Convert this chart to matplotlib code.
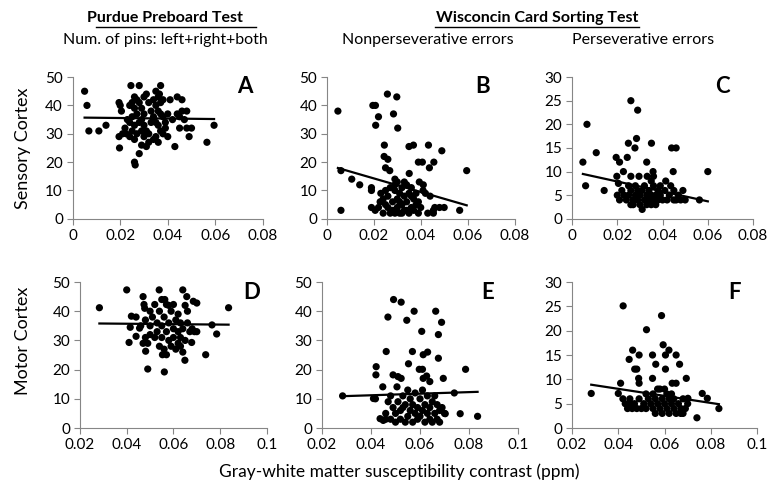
import numpy as np
import matplotlib
matplotlib.use("Agg")
import matplotlib.pyplot as plt

plt.rcParams["font.family"] = ["Lato", "DejaVu Sans"]

# points (x = contrast ppm, y = score)
a_pts = [(0.005, 45), (0.006, 40), (0.0068, 31), (0.011, 31), (0.014, 33),
         (0.0195, 41), (0.020, 40), (0.0205, 38), (0.0195, 29), (0.0197, 25), (0.021, 30), (0.022, 32), (0.023, 35), (0.0225, 30),
         (0.0245, 47), (0.028, 47), (0.026, 43), (0.027, 42), (0.025, 41), (0.024, 40), (0.026, 39), (0.027, 37), (0.025, 36),
         (0.024, 34), (0.026, 33), (0.025, 31), (0.027, 30), (0.026, 28), (0.024, 29),
         (0.026, 20), (0.0263, 19), (0.028, 23), (0.029, 26), (0.031, 25.5), (0.032, 27),
         (0.028, 41), (0.029, 39), (0.030, 43), (0.031, 44), (0.032, 41), (0.033, 38), (0.029, 35), (0.030, 33), (0.031, 31),
         (0.030, 29), (0.032, 30), (0.033, 34), (0.028, 34), (0.029, 31), (0.030, 37),
         (0.034, 42), (0.035, 45), (0.036, 43), (0.037, 47), (0.0365, 44), (0.035, 40), (0.036, 38), (0.037, 41), (0.034, 36),
         (0.035, 34), (0.036, 33), (0.037, 31), (0.035, 29), (0.036, 27), (0.034, 28), (0.038, 30), (0.038, 36), (0.039, 34),
         (0.037, 37), (0.038, 42), (0.039, 32), (0.040, 29), (0.040, 37),
         (0.041, 42), (0.044, 43), (0.046, 42), (0.043, 25.5), (0.045, 32), (0.048, 38), (0.046, 38), (0.045, 36), (0.048, 32),
         (0.050, 32), (0.049, 29), (0.0565, 27), (0.0595, 33), (0.042, 35), (0.044, 37), (0.047, 35)]

b_pts = [(0.0047, 38), (0.006, 17), (0.006, 3), (0.0106, 14), (0.014, 12), (0.019, 11), (0.019, 10), (0.0196, 40), (0.0207, 40),
         (0.0208, 33), (0.022, 36), (0.0258, 44), (0.0298, 43), (0.0284, 37), (0.0302, 32), (0.0245, 26), (0.0244, 22), (0.026, 21),
         (0.025, 18), (0.0268, 17), (0.035, 25.5), (0.0369, 26), (0.0351, 16), (0.029, 14), (0.039, 20), (0.0407, 20), (0.0433, 26),
         (0.0456, 20), (0.0437, 18), (0.049, 24), (0.0596, 17), (0.0394, 13), (0.0411, 12), (0.044, 8), (0.0566, 3), (0.0454, 3),
         (0.0454, 2), (0.048, 4), (0.05, 4), (0.019, 4), (0.0206, 3), (0.0227, 6), (0.024, 2),
         (0.023, 9), (0.025, 5), (0.026, 8), (0.027, 11), (0.028, 6), (0.028, 3), (0.029, 10), (0.029, 12), (0.030, 7), (0.030, 4),
         (0.031, 2), (0.031, 9), (0.032, 11), (0.032, 5), (0.033, 3), (0.033, 8), (0.034, 12), (0.034, 6), (0.035, 2), (0.035, 9),
         (0.036, 4), (0.036, 11), (0.037, 7), (0.037, 3), (0.038, 5), (0.038, 9), (0.039, 2), (0.039, 6), (0.040, 4), (0.041, 10),
         (0.042, 9), (0.027, 2), (0.026, 4), (0.030, 13), (0.033, 13), (0.031, 6), (0.034, 3), (0.036, 8), (0.032, 2), (0.029, 2),
         (0.025, 10), (0.024, 7), (0.022, 4), (0.046, 4), (0.043, 2)]

c_pts = [(0.0048, 12), (0.0066, 20), (0.006, 7), (0.0107, 14), (0.0142, 6), (0.0195, 13), (0.021, 12), (0.0227, 10), (0.0198, 9),
         (0.0205, 7.5), (0.026, 25), (0.029, 23), (0.0285, 17), (0.0249, 16), (0.0278, 15), (0.0244, 13), (0.026, 9), (0.0296, 9),
         (0.033, 12), (0.0351, 16), (0.0358, 10), (0.0332, 9), (0.044, 15), (0.046, 15), (0.0447, 10), (0.0414, 8), (0.0436, 7),
         (0.049, 6), (0.0563, 4), (0.06, 10), (0.027, 3), (0.031, 2), (0.035, 3),
         (0.020, 5), (0.021, 4), (0.022, 6), (0.023, 5), (0.024, 4), (0.025, 7), (0.025, 5), (0.026, 6), (0.027, 4), (0.028, 5),
         (0.028, 7), (0.029, 4), (0.030, 5), (0.030, 3), (0.031, 6), (0.032, 4), (0.032, 7), (0.033, 5), (0.034, 4), (0.034, 6),
         (0.035, 8), (0.035, 5), (0.036, 4), (0.036, 7), (0.037, 5), (0.037, 3), (0.038, 6), (0.038, 4), (0.039, 5), (0.040, 4),
         (0.041, 6), (0.042, 4), (0.043, 5), (0.045, 4), (0.046, 4), (0.047, 5), (0.048, 4), (0.050, 4), (0.045, 6), (0.033, 3),
         (0.029, 6), (0.026, 3), (0.036, 9), (0.039, 7)]

d_pts = [(0.0283, 41.2), (0.040, 47.3), (0.0539, 47.3), (0.064, 47.3), (0.0657, 45), (0.047, 45), (0.0474, 42.3), (0.0477, 41),
         (0.041, 29.3), (0.044, 31.4), (0.0481, 26.3), (0.049, 20.2), (0.0561, 19.2), (0.0553, 25.1), (0.057, 25.1), (0.0649, 23.2),
         (0.0678, 29.3), (0.0738, 25.1), (0.0785, 32.2), (0.0765, 35.3), (0.0836, 41.2), (0.0685, 43.4), (0.070, 42.8), (0.042, 38.3),
         (0.044, 38), (0.0415, 34.5), (0.0455, 34.2), (0.050, 40), (0.052, 42.3), (0.0563, 44), (0.057, 42.3), (0.060, 42.3),
         (0.047, 29), (0.049, 29), (0.048, 37), (0.050, 35), (0.050, 32), (0.051, 38), (0.052, 31), (0.053, 36), (0.053, 33),
         (0.054, 40), (0.054, 28), (0.055, 35), (0.055, 31), (0.056, 38), (0.056, 27), (0.057, 33), (0.058, 36), (0.058, 30),
         (0.059, 40), (0.059, 28), (0.060, 34), (0.060, 31), (0.061, 37), (0.061, 27), (0.062, 33), (0.062, 29), (0.063, 36),
         (0.063, 31), (0.064, 26), (0.064, 34), (0.065, 42), (0.065, 30), (0.066, 36), (0.066, 40), (0.067, 33), (0.068, 34),
         (0.069, 33), (0.070, 33), (0.062, 39), (0.058, 42), (0.055, 44), (0.046, 35), (0.048, 31), (0.063, 28)]

e_pts = [(0.0284, 11), (0.041, 10.1), (0.0418, 10), (0.0421, 21), (0.042, 18.2), (0.0448, 14.1), (0.0462, 26.2), (0.0469, 38),
         (0.0492, 44), (0.0523, 43.1), (0.0546, 36.9), (0.0576, 40), (0.0664, 40), (0.0688, 36.2), (0.0607, 33.1), (0.0675, 32),
         (0.0569, 26.2), (0.0613, 25.1), (0.0631, 26), (0.0675, 23.9), (0.0553, 22), (0.0597, 20.1), (0.061, 20.1), (0.0786, 20.1),
         (0.0695, 17), (0.0613, 17), (0.0627, 17.8), (0.064, 15.9), (0.049, 18.2), (0.051, 17.6), (0.0523, 17), (0.0506, 14.1),
         (0.074, 12), (0.0764, 4.9), (0.0835, 4), (0.0703, 4.9), (0.0437, 3.2), (0.045, 2.6),
         (0.046, 5), (0.047, 9), (0.048, 11), (0.048, 3), (0.049, 7), (0.050, 2), (0.050, 5), (0.051, 9), (0.052, 3), (0.052, 6),
         (0.053, 11), (0.054, 2), (0.054, 8), (0.055, 4), (0.055, 13), (0.056, 6), (0.056, 10), (0.057, 2), (0.057, 8), (0.058, 5),
         (0.058, 12), (0.059, 3), (0.059, 7), (0.060, 10), (0.060, 4), (0.061, 6), (0.061, 13), (0.062, 2), (0.062, 8), (0.063, 5),
         (0.063, 11), (0.064, 3), (0.064, 7), (0.065, 9), (0.065, 2), (0.066, 5), (0.066, 11), (0.067, 3), (0.067, 8), (0.068, 6),
         (0.068, 2), (0.069, 7), (0.070, 5), (0.046, 3), (0.053, 7)]

f_pts = [(0.0283, 7.1), (0.0421, 25.1), (0.0587, 23.1), (0.0522, 20.2), (0.0594, 17.1), (0.0604, 15), (0.0619, 16), (0.065, 15),
         (0.0665, 13.1), (0.0548, 15), (0.0562, 13.1), (0.0604, 12.1), (0.0694, 10.2), (0.0462, 16), (0.0447, 14.1), (0.049, 15),
         (0.0471, 12.1), (0.048, 12.1), (0.0488, 10.2), (0.049, 9.2), (0.0548, 10.2), (0.0633, 9.2), (0.065, 9.2), (0.041, 9.2),
         (0.040, 7.1), (0.0763, 7.1), (0.0785, 6.1), (0.0835, 4), (0.074, 2.1), (0.0701, 6.1),
         (0.042, 6), (0.043, 5), (0.044, 4), (0.045, 6), (0.046, 4), (0.047, 5), (0.048, 4), (0.049, 6), (0.050, 4), (0.051, 5),
         (0.052, 7), (0.052, 4), (0.053, 6), (0.054, 5), (0.055, 4), (0.055, 7), (0.056, 3), (0.056, 6), (0.057, 5), (0.058, 8),
         (0.058, 4), (0.059, 6), (0.059, 3), (0.060, 5), (0.060, 8), (0.061, 4), (0.061, 7), (0.062, 3), (0.062, 6), (0.063, 5),
         (0.063, 7), (0.064, 4), (0.064, 6), (0.065, 3), (0.066, 5), (0.067, 4), (0.067, 3), (0.068, 6), (0.068, 3), (0.069, 4),
         (0.070, 5), (0.057, 8), (0.045, 5)]

# linear trend (slope, intercept)
trends = {"A": (-9.1, 35.74), "B": (-239.8, 19.06), "C": (-105.0, 10.0),
          "D": (-7.2, 36.0), "E": (27.0, 10.13), "F": (-72.5, 10.95)}

top_ticks = [0, 0.02, 0.04, 0.06, 0.08]
top_labels = ["0", "0.02", "0.04", "0.06", "0.08"]
bot_ticks = [0.02, 0.04, 0.06, 0.08, 0.1]
bot_labels = ["0.02", "0.04", "0.06", "0.08", "0.1"]

panels = [
    ("A", a_pts, [0.093, 0.557, 0.243, 0.287], (0, 0.08), top_ticks, top_labels, 50, (0.905, 0.93)),
    ("B", b_pts, [0.418, 0.557, 0.240, 0.287], (0, 0.08), top_ticks, top_labels, 50, (0.83, 0.93)),
    ("C", c_pts, [0.7315, 0.557, 0.2315, 0.287], (0, 0.08), top_ticks, top_labels, 30, (0.83, 0.93)),
    ("D", d_pts, [0.1023, 0.1336, 0.239, 0.2955], (0.02, 0.1), bot_ticks, bot_labels, 50, (0.92, 0.93)),
    ("E", e_pts, [0.4118, 0.1336, 0.2506, 0.2955], (0.02, 0.1), bot_ticks, bot_labels, 50, (0.847, 0.93)),
    ("F", f_pts, [0.7315, 0.1336, 0.2366, 0.2955], (0.02, 0.1), bot_ticks, bot_labels, 30, (0.88, 0.93)),
]

fig = plt.figure(figsize=(7.82, 4.94), dpi=100)

for letter, pts, rect, xlim, xt, xtl, ymax, lpos in panels:
    ax = fig.add_axes(rect)
    xs = np.array([p[0] for p in pts])
    ys = np.array([p[1] for p in pts])
    ax.scatter(xs, ys, s=27, color="black", edgecolors="none", zorder=3, clip_on=False)
    m, b = trends[letter]
    lx = np.array([xs.min(), xs.max()])
    ax.plot(lx, m * lx + b, color="black", lw=1.6, zorder=4)
    ax.set_xlim(*xlim)
    ax.set_ylim(0, ymax)
    ax.set_xticks(xt)
    ax.set_xticklabels(xtl)
    step = 10 if ymax == 50 else 5
    ax.set_yticks(np.arange(0, ymax + 1, step))
    for s in ["top", "right"]:
        ax.spines[s].set_visible(False)
    for s in ["left", "bottom"]:
        ax.spines[s].set_color("#868686")
        ax.spines[s].set_linewidth(0.8)
    ax.tick_params(direction="out", length=4, width=0.8, color="#868686", labelsize=11, pad=3)
    ax.text(lpos[0], lpos[1], letter, transform=ax.transAxes, ha="center", va="center",
            fontsize=16, fontweight="bold")

fig.text(0.211, 0.964, "Purdue Preboard Test", ha="center", va="center", fontsize=11.5, fontweight="bold")
fig.text(0.211, 0.919, "Num. of pins: left+right+both", ha="center", va="center", fontsize=11.5)
fig.text(0.687, 0.964, "Wisconcin Card Sorting Test", ha="center", va="center", fontsize=11.5, fontweight="bold")
fig.text(0.547, 0.919, "Nonperseverative errors", ha="center", va="center", fontsize=11.5)
fig.text(0.822, 0.919, "Perseverative errors", ha="center", va="center", fontsize=11.5)

# underlines under the test names
fig.lines.append(plt.Line2D([0.123, 0.328], [0.946, 0.946], transform=fig.transFigure, color="black", lw=1.0))
fig.lines.append(plt.Line2D([0.556, 0.817], [0.946, 0.946], transform=fig.transFigure, color="black", lw=1.0))

fig.text(0.030, 0.70, "Sensory Cortex", rotation=90, ha="center", va="center", fontsize=13)
fig.text(0.030, 0.31, "Motor Cortex", rotation=90, ha="center", va="center", fontsize=13)
fig.text(0.51, 0.045, "Gray-white matter susceptibility contrast (ppm)", ha="center", va="center", fontsize=12.5)

fig.savefig("out.png", dpi=100)
